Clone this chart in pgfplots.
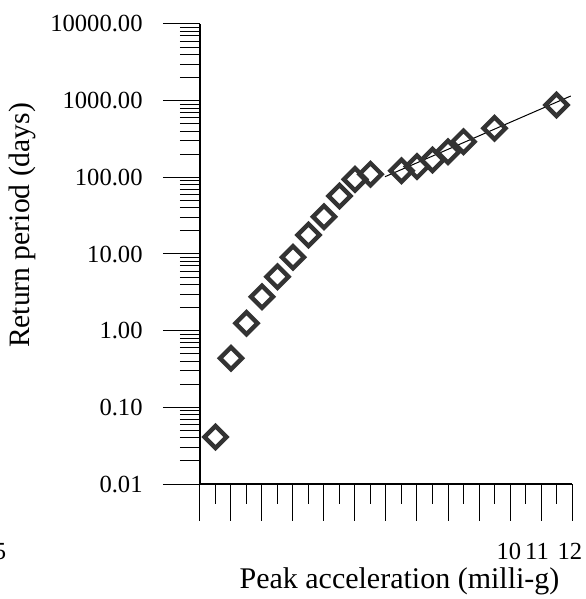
\documentclass[border=0pt]{standalone}
\usepackage{pgfplots}
\pgfplotsset{compat=1.18}
\usepackage{fontspec}
\setmainfont{Liberation Serif}
\begin{document}
\fontsize{12.3}{14}\selectfont
\begin{tikzpicture}
\begin{axis}[
  scale only axis,
  width=186pt, height=230pt,
  xmin=0, xmax=24,
  ymode=log, ymin=0.01, ymax=10000,
  axis lines*=left,
  axis line style={line width=0.7pt},
  tick style={line width=0.5pt, black},
  tick align=outside,
  major tick length=18.5pt,
  minor tick length=10pt,
  xtick={0,2,...,24},
  minor xtick={1,3,...,23},
  xticklabels={},
  ytick={0.01,0.1,1,10,100,1000,10000},
  yticklabels={0.01,0.10,1.00,10.00,100.00,1000.00,10000.00},
  /pgf/number format/assume math mode=true,
  yticklabel style={anchor=east, inner sep=0pt, xshift=-10pt, font=\fontsize{12.3}{14}\selectfont},
  clip=false,
]
\addplot[black, line width=0.5pt] coordinates {(11.94,102) (23.92,1150)};
\addplot[only marks, mark=square, mark size=3.9pt,
  mark options={rotate=45, line width=2.2pt, draw=black!80, fill=none}]
  coordinates {
  (1,0.041) (2,0.437) (3,1.25) (4,2.77) (5,5.06) (6,9.06) (7,17.7) (8,30.6)
  (9,57) (10,94) (11,110) (13,122) (14,138) (15,168) (16,216) (17,292)
  (19,436) (23,878)
  };
\node[anchor=base] at (axis description cs:0.8306,-0.1652) {10};
\node[anchor=base] at (axis description cs:0.9059,-0.1652) {11};
\node[anchor=base] at (axis description cs:0.9946,-0.1652) {12};
\node[anchor=base] at (axis description cs:-0.5376,-0.1652) {5};
\node[anchor=base, font=\fontsize{15}{17}\selectfont] at (axis description cs:0.5363,-0.2261) {Peak acceleration (milli-g)};
\node[rotate=90, anchor=center, font=\fontsize{14.8}{17}\selectfont] at (axis description cs:-0.4785,0.562) {Return period (days)};
\coordinate (O) at (rel axis cs:0,0);
\end{axis}
\pgfresetboundingbox
\path ([shift={(-100pt,-57.5pt)}]O) rectangle ++(292.5pt,299.5pt);
\end{tikzpicture}
\end{document}
